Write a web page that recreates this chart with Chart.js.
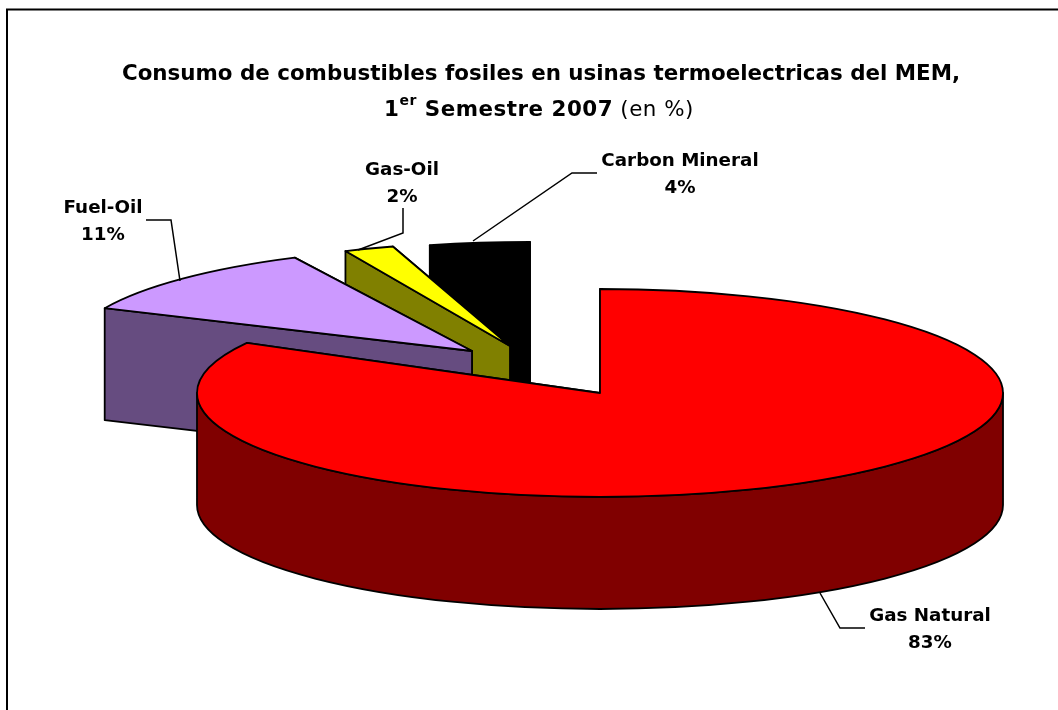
<!DOCTYPE html>
<html>
<head>
<meta charset="utf-8">
<style>html,body{margin:0;padding:0;background:#fff}canvas{display:block}</style>
<script src="https://cdn.jsdelivr.net/npm/chart.js@4"></script>
</head>
<body>
<canvas id="c" width="1058" height="710"></canvas>
<script>
const categories = ['Gas Natural', 'Fuel-Oil', 'Gas-Oil', 'Carbon Mineral'];
const values = [83, 11, 2, 4];
const topColors = ['#FF0000', '#CC99FF', '#FFFF00', '#000000'];
const sideColors = ['#800000', '#664C80', '#808000', '#000000'];
const titleLine1 = 'Consumo de combustibles fosiles en usinas termoelectricas del MEM,';

// 3D view of the pie
const tilt = 104 / 403;
const depth = 112;
const explodeX = [0, -128, -90, -70];
const explodeY = [0, -42, -47, -47];
const turnDeg = [0, -4.5, -2.5, 0];

const labelX = [930, 103, 402, 680];
const labelY = [616, 208, 170, 161];
const labelPitch = 27;
const leaders = [
  [[820, 593], [840, 628], [865, 628]],
  [[146, 220], [171, 220], [180, 281]],
  [[403, 208], [403, 233], [358, 250]],
  [[597, 173], [572, 173], [473, 241]]
];

const FONT_B = 'bold 21.4px "DejaVu Sans"';
const FONT_L = 'bold 18.3px "DejaVu Sans"';

const pie3d = {
  id: 'pie3d',
  beforeDatasetDraw(chart, args) {
    const ctx = chart.ctx;
    const arcs = args.meta.data;
    ctx.save();
    ctx.lineWidth = 1.8;
    ctx.strokeStyle = '#000';
    ctx.lineJoin = 'round';
    for (let i = arcs.length - 1; i >= 0; i--) {
      const arc = arcs[i];
      const turn = turnDeg[i] * Math.PI / 180;
      const a0 = arc.startAngle + turn, a1 = arc.endAngle + turn;
      const r = arc.outerRadius, ry = r * tilt;
      const cx = arc.x + explodeX[i], cy = arc.y + explodeY[i];
      const px = a => cx + r * Math.cos(a), py = a => cy + ry * Math.sin(a);

      // radial cut faces (rear one first)
      [a1, a0].forEach(a => {
        ctx.beginPath();
        ctx.moveTo(cx, cy);
        ctx.lineTo(px(a), py(a));
        ctx.lineTo(px(a), py(a) + depth);
        ctx.lineTo(cx, cy + depth);
        ctx.closePath();
        ctx.fillStyle = sideColors[i];
        ctx.fill();
        ctx.stroke();
      });

      // outer wall (front half only)
      const lo = Math.max(a0, 0), hi = Math.min(a1, Math.PI);
      if (lo < hi) {
        ctx.beginPath();
        ctx.ellipse(cx, cy, r, ry, 0, lo, hi);
        ctx.ellipse(cx, cy + depth, r, ry, 0, hi, lo, true);
        ctx.closePath();
        ctx.fillStyle = sideColors[i];
        ctx.fill();
        ctx.stroke();
      }

      // top face: the library's own arc element, seen through the tilt
      ctx.save();
      ctx.translate(cx, cy);
      ctx.scale(1, tilt);
      ctx.rotate(turn);
      ctx.translate(-arc.x, -arc.y);
      arc.draw(ctx);
      ctx.restore();

      ctx.beginPath();
      ctx.moveTo(cx, cy);
      ctx.ellipse(cx, cy, r, ry, 0, a0, a1);
      ctx.closePath();
      ctx.stroke();
    }
    ctx.restore();
    return false;
  },
  afterDraw(chart) {
    const ctx = chart.ctx;
    ctx.save();
    // frame: only the top and left rules show in the picture
    ctx.strokeStyle = '#000';
    ctx.lineWidth = 2;
    ctx.beginPath();
    ctx.moveTo(7, 710);
    ctx.lineTo(7, 9.5);
    ctx.lineTo(1058, 9.5);
    ctx.stroke();

    // leader lines
    ctx.lineWidth = 1.5;
    leaders.forEach(pts => {
      ctx.beginPath();
      pts.forEach((p, j) => j ? ctx.lineTo(p[0], p[1]) : ctx.moveTo(p[0], p[1]));
      ctx.stroke();
    });

    // labels
    ctx.fillStyle = '#000';
    ctx.textBaseline = 'middle';
    ctx.textAlign = 'center';
    ctx.font = FONT_L;
    categories.forEach((name, i) => {
      ctx.fillText(name, labelX[i], labelY[i]);
      ctx.fillText(values[i] + '%', labelX[i], labelY[i] + labelPitch);
    });

    // title
    ctx.font = FONT_B;
    ctx.fillText(titleLine1, 541, 74);
    const runs = [
      ['1', FONT_B, 0],
      ['er', 'bold 14px "DejaVu Sans"', -9],
      [' Semestre 2007', FONT_B, 0],
      [' (en %)', '21.4px "DejaVu Sans"', 0]
    ];
    ctx.textAlign = 'left';
    ctx.letterSpacing = '0.5px';
    let w = 0;
    runs.forEach(run => { ctx.font = run[1]; w += ctx.measureText(run[0]).width; });
    let x = 539 - w / 2;
    runs.forEach(run => {
      ctx.font = run[1];
      ctx.fillText(run[0], x, 110 + run[2]);
      x += ctx.measureText(run[0]).width;
    });
    ctx.restore();
  }
};

new Chart(document.getElementById('c'), {
  type: 'pie',
  data: {
    labels: categories,
    datasets: [{ data: values, backgroundColor: topColors, borderWidth: 0 }]
  },
  options: {
    responsive: false,
    animation: false,
    events: [],
    radius: 403,
    layout: { padding: { left: 142, top: 76 } },
    plugins: { legend: { display: false }, tooltip: { enabled: false }, title: { display: false } }
  },
  plugins: [pie3d]
});
</script>
</body>
</html>
